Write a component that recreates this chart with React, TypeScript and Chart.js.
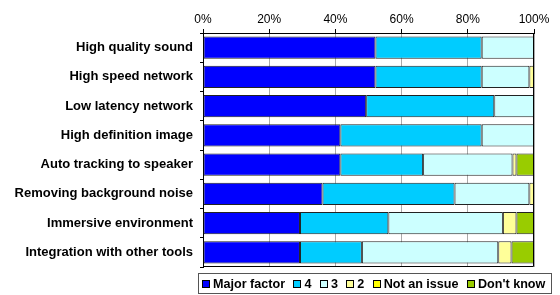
import React, { useEffect, useRef } from "react";
import { Chart, registerables } from "chart.js";

Chart.register(...registerables);

const categories = [
  "High quality sound",
  "High speed network",
  "Low latency network",
  "High definition image",
  "Auto tracking to speaker",
  "Removing background noise",
  "Immersive environment",
  "Integration with other tools",
];
const majorFactor = [52.1, 52.1, 49.3, 41.5, 41.5, 36.1, 29.3, 29.3];
const four = [32.1, 32.1, 38.7, 42.7, 25, 39.9, 26.7, 18.7];
const three = [15.8, 14.4, 12, 15.8, 27, 22.6, 34.6, 41.2];
const two = [null, 1.4, null, null, 1.2, 1.4, 4.1, 4.0];
const notAnIssue = [null, null, null, null, null, null, null, null];
const dontKnow = [null, null, null, null, 5.3, null, 5.3, 6.8];
const xTicks = [0, 20, 40, 60, 80, 100];

const seriesNames = ["Major factor", "4", "3", "2", "Not an issue", "Don't know"];
const seriesColors = ["#0000FF", "#00CCFF", "#CCFFFF", "#FFFF99", "#FFFF00", "#99CC00"];
const seriesData = [majorFactor, four, three, two, notAnIssue, dontKnow];

const FONT = "'Liberation Sans', Arial, sans-serif";

const frame = {
  id: "frame",
  afterDatasetsDraw(chart: any) {
    const { ctx, chartArea } = chart;
    ctx.save();
    ctx.strokeStyle = "#000";
    ctx.lineWidth = 1;
    ctx.beginPath();
    const l = Math.round(chartArea.left) + 0.5;
    const r = Math.round(chartArea.right) - 0.5;
    const b = Math.round(chartArea.bottom) - 0.5;
    const t = Math.round(chartArea.top) + 0.5;
    ctx.moveTo(r, t);
    ctx.lineTo(r, b);
    ctx.lineTo(l, b);
    ctx.stroke();
    ctx.restore();
  },
};

export default function App() {
  const ref = useRef<HTMLCanvasElement>(null);
  useEffect(() => {
    const chart = new Chart(ref.current!, {
      type: "bar",
      data: {
        labels: categories,
        datasets: seriesNames.map((n, i) => ({
          label: n,
          data: seriesData[i] as any,
          backgroundColor: seriesColors[i],
          borderColor: "#222",
          borderWidth: 1,
          borderSkipped: false,
          categoryPercentage: 1,
          barPercentage: 0.76,
        })),
      },
      options: {
        indexAxis: "y",
        animation: false,
        responsive: false,
        maintainAspectRatio: false,
        layout: { padding: { left: 0, right: 26, top: 0, bottom: 28 } },
        plugins: { legend: { display: false }, tooltip: { enabled: false } },
        scales: {
          x: {
            position: "top",
            stacked: true,
            min: 0,
            max: 100,
            afterBuildTicks: (s: any) => {
              s.ticks = xTicks.map((v) => ({ value: v }));
            },
            afterFit: (s: any) => {
              s.height = 33;
            },
            ticks: {
              callback: (v: any) => v + "%",
              font: { family: FONT, size: 12 },
              color: "#000",
              padding: 2,
              maxRotation: 0,
              autoSkip: false,
            },
            grid: { color: "#aaa", tickColor: "#000", tickLength: 4 },
            border: { color: "#000" },
          },
          y: {
            stacked: true,
            afterFit: (s: any) => {
              s.width = 203;
            },
            ticks: {
              font: { family: FONT, size: 13, weight: "bold" },
              color: "#000",
              padding: 7,
              autoSkip: false,
            },
            grid: { offset: true, drawOnChartArea: false, tickColor: "#000", tickLength: 3 },
            border: { color: "#000" },
          },
        },
      },
      plugins: [frame],
    });
    return () => chart.destroy();
  }, []);

  return (
    <div style={{ position: "fixed", left: 0, top: 0, width: 560, height: 295, background: "#fff" }}>
      <canvas ref={ref} width={560} height={295} style={{ width: 560, height: 295, display: "block" }} />
      <div
        style={{
          position: "absolute",
          left: 198,
          top: 273,
          width: 349,
          height: 19,
          border: "1px solid #555",
          display: "flex",
          alignItems: "center",
          paddingLeft: 3,
          boxSizing: "content-box",
          fontFamily: FONT,
          fontWeight: "bold",
          fontSize: 12.6,
          color: "#000",
          whiteSpace: "nowrap",
        }}
      >
        {seriesNames.map((n, i) => (
          <span key={n} style={{ display: "flex", alignItems: "center", marginRight: 8.4 }}>
            <span
              style={{
                display: "inline-block",
                width: 6,
                height: 6,
                background: seriesColors[i],
                border: "1px solid #000",
                marginRight: 3,
              }}
            />
            <span>{n}</span>
          </span>
        ))}
      </div>
    </div>
  );
}
